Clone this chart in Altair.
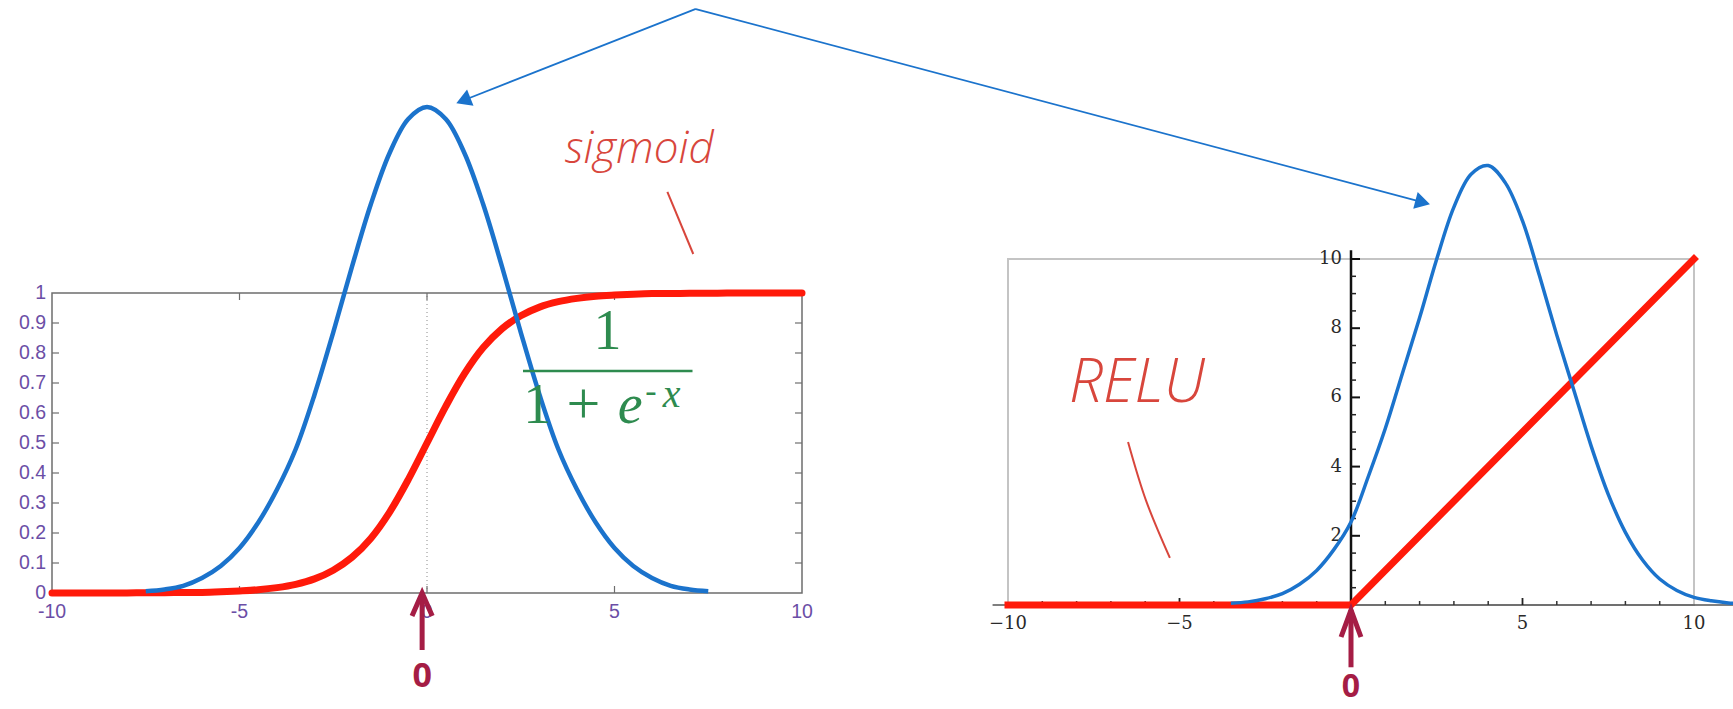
import altair as alt
import pandas as pd

# ---------------- sigmoid panel ----------------
sig_x = [-10, -9.5, -9, -8.5, -8, -7.5, -7, -6.5, -6, -5.5, -5, -4.5, -4, -3.5,
         -3, -2.5, -2, -1.5, -1, -0.5, 0, 0.5, 1, 1.5, 2, 2.5, 3, 3.5,
         4, 4.5, 5, 5.5, 6, 6.5, 7, 7.5, 8, 8.5, 9, 9.5, 10]
sig_y = [0.000, 0.000, 0.000, 0.000, 0.000, 0.001, 0.001, 0.002, 0.002, 0.004, 0.007, 0.011, 0.018, 0.029,
         0.047, 0.076, 0.119, 0.182, 0.269, 0.378, 0.500, 0.622, 0.731, 0.818, 0.881, 0.924, 0.953, 0.971,
         0.982, 0.989, 0.993, 0.996, 0.998, 0.998, 0.999, 0.999, 1.000, 1.000, 1.000, 1.000, 1.000]

bell_l_x = [-7.5, -7, -6.5, -6, -5.5, -5, -4.5, -4, -3.5, -3, -2.5, -2, -1.5, -1, -0.5, 0,
            0.5, 1, 1.5, 2, 2.5, 3, 3.5, 4, 4.5, 5, 5.5, 6, 6.5, 7, 7.5]
bell_l_y = [0.006, 0.012, 0.024, 0.05, 0.09, 0.15, 0.235, 0.345, 0.48, 0.661, 0.869, 1.088, 1.295, 1.466, 1.580, 1.620,
            1.580, 1.466, 1.295, 1.088, 0.869, 0.661, 0.48, 0.345, 0.235, 0.15, 0.09, 0.05, 0.024, 0.012, 0.006]

l_xlim = [-10, 10]
l_ylim = [0, 1]
l_ytick_vals = [0.1, 0.2, 0.3, 0.4, 0.5, 0.6, 0.7, 0.8, 0.9]
l_xtick_vals = [-5, 0, 5]
l_ylabel_vals = [0, 0.1, 0.2, 0.3, 0.4, 0.5, 0.6, 0.7, 0.8, 0.9, 1]
l_ylabel_txt = ["0", "0.1", "0.2", "0.3", "0.4", "0.5", "0.6", "0.7", "0.8", "0.9", "1"]
l_xlabel_vals = [-10, -5, 0, 5, 10]
l_xlabel_txt = ["-10", "-5", "0", "5", "10"]

# formula 1 / (1 + e^-x), placed in sigmoid-panel units
frac_up_txt = ["1", "1", "+", "-"]
frac_up_x = [4.81, 2.94, 4.17, 5.97]
frac_up_y = [0.813, 0.567, 0.567, 0.637]
frac_up_size = [56, 56, 60, 34]
frac_it_txt = ["e", "x"]
frac_it_x = [5.42, 6.52]
frac_it_y = [0.567, 0.62]
frac_it_size = [56, 40]
frac_bar_x = [2.56, 7.08]
frac_bar_y = 0.74

sig_label_pos = (5.66, 1.433)
sig_stroke_x = [6.41, 7.10]
sig_stroke_y = [1.337, 1.13]

# arrow from the top note down to the left bell peak
note_l_from = (7.17, 1.947)
note_l_to = (1.03, 1.645)

# marker under x = 0
zero_l_x = -0.13
zero_l_wing_x = [-0.40, -0.13, 0.14]
zero_l_wing_y = [-0.077, 0.0, -0.077]
zero_l_shaft_y = [-0.005, -0.19]
zero_l_text_y = -0.28

# ---------------- ReLU panel ----------------
relu_x = [-10, 0, 10]
relu_y = [0, 0, 10]

bell_r_x = [-3.5, -3, -2.5, -2, -1.5, -1, -0.5, 0, 0.5, 1, 1.5, 2, 2.5, 3, 3.5, 4,
            4.5, 5, 5.5, 6, 6.5, 7, 7.5, 8, 8.5, 9, 9.5, 10, 10.5, 11, 11.5]
bell_r_y = [0.05, 0.09, 0.18, 0.33, 0.6, 1.0, 1.6, 2.4, 3.7, 5.1, 6.7, 8.3, 10.0, 11.5, 12.45, 12.7,
            12.2, 11.1, 9.5, 7.8, 6.2, 4.6, 3.2, 2.1, 1.3, 0.75, 0.42, 0.22, 0.12, 0.06, 0.03]

r_xlim = [-10, 10]
r_ylim = [0, 10]
r_xaxis_span = [-10.45, 11.6]
r_yaxis_top = 10.25
r_ymajor = [2, 4, 6, 8, 10]
r_yminor = [0.5, 1, 1.5, 2.5, 3, 3.5, 4.5, 5, 5.5, 6.5, 7, 7.5, 8.5, 9, 9.5]
r_xmajor = [-5, 5]
r_xminor = [-9, -8, -7, -6, -4, -3, -2, -1, 1, 2, 3, 4, 6, 7, 8, 9]
r_xlabel_vals = [-10, -5, 5, 10]
r_xlabel_txt = ["\u221210", "\u22125", "5", "10"]

relu_label_pos = (-6.24, 5.87)
relu_stroke_x = [-6.50, -5.98, -5.28]
relu_stroke_y = [4.71, 3.03, 1.36]

note_r_from = (-19.10, 17.225)
note_r_to = (2.02, 11.66)

zero_r_x = 0.0
zero_r_wing_x = [-0.29, 0.0, 0.29]
zero_r_wing_y = [-0.925, -0.145, -0.925]
zero_r_shaft_y = [-0.15, -1.80]
zero_r_text_y = -2.36

# ---------------- styling ----------------
BLUE = "#1b73cc"
RED = "#ff1a0a"
INK = "#d8463c"
PURPLE = "#6b4ea6"
GREEN = "#2e8b4f"
MAROON = "#a51d45"
HAND = "Open Sans"

XL = alt.Scale(domain=l_xlim, range=[52, 802], nice=False, zero=False)
YL = alt.Scale(domain=l_ylim, range=[593, 293], nice=False, zero=False)
XR = alt.Scale(domain=r_xlim, range=[1008, 1694], nice=False, zero=False)
YR = alt.Scale(domain=r_ylim, range=[605, 259], nice=False, zero=False)


def pos(xs, ys, x="x", y="y", x2=None, y2=None):
    e = {"x": alt.X(x, type="quantitative", scale=xs, axis=None),
         "y": alt.Y(y, type="quantitative", scale=ys, axis=None)}
    if x2:
        e["x2"] = alt.X2(x2)
    if y2:
        e["y2"] = alt.Y2(y2)
    return e


def df(**cols):
    return pd.DataFrame(cols)


def panel(xs, ys, xlim, ylim, frame_color, frame_w):
    return alt.Chart(df(x=[xlim[0]], x2=[xlim[1]], y=[ylim[0]], y2=[ylim[1]])).mark_rect(
        fillOpacity=0, stroke=frame_color, strokeWidth=frame_w
    ).encode(**pos(xs, ys, x2="x2", y2="y2"))


def zero_marker(xs, ys, x0, wing_x, wing_y, shaft_y, text_y, fsize):
    shaft = alt.Chart(df(x=[x0], y=[shaft_y[0]], y2=[shaft_y[1]])).mark_rule(
        color=MAROON, strokeWidth=5
    ).encode(**pos(xs, ys, y2="y2"))
    wings = alt.Chart(df(x=wing_x, y=wing_y, i=[0, 1, 2])).mark_line(
        color=MAROON, strokeWidth=5, strokeJoin="miter", strokeCap="butt"
    ).encode(**pos(xs, ys), order="i:Q")
    label = alt.Chart(df(x=[x0], y=[text_y], t=["0"])).mark_text(
        font="Open Sans", fontWeight="bold", fontSize=fsize, color=MAROON, baseline="middle"
    ).encode(**pos(xs, ys), text="t:N")
    return [shaft, wings, label]


def note_arrow(xs, ys, start, end, angle):
    line = alt.Chart(df(x=[start[0]], y=[start[1]], x2=[end[0]], y2=[end[1]])).mark_rule(
        color=BLUE, strokeWidth=1.8
    ).encode(**pos(xs, ys, x2="x2", y2="y2"))
    head = alt.Chart(df(x=[end[0]], y=[end[1]])).mark_point(
        shape="triangle", filled=True, color=BLUE, opacity=1, size=300, angle=angle
    ).encode(**pos(xs, ys))
    return [line, head]


# ---------- sigmoid panel layers ----------
left_layers = [
    panel(XL, YL, l_xlim, l_ylim, "#6e6e6e", 1.5),
    alt.Chart(df(x=[0], y=[l_ylim[0]], y2=[l_ylim[1]])).mark_rule(
        color="#8a8a8a", strokeDash=[1, 3], strokeWidth=1
    ).encode(**pos(XL, YL, y2="y2")),
    alt.Chart(df(x=[l_xlim[0]] * len(l_ytick_vals), y=l_ytick_vals)).mark_rule(
        color="#6e6e6e", strokeWidth=1.2, x2Offset=7
    ).encode(**pos(XL, YL, x2="x")),
    alt.Chart(df(x=[l_xlim[1]] * len(l_ytick_vals), y=l_ytick_vals)).mark_rule(
        color="#6e6e6e", strokeWidth=1.2, x2Offset=-7
    ).encode(**pos(XL, YL, x2="x")),
    alt.Chart(df(x=l_xtick_vals, y=[l_ylim[0]] * len(l_xtick_vals))).mark_rule(
        color="#6e6e6e", strokeWidth=1.2, y2Offset=-7
    ).encode(**pos(XL, YL, y2="y")),
    alt.Chart(df(x=l_xtick_vals, y=[l_ylim[1]] * len(l_xtick_vals))).mark_rule(
        color="#6e6e6e", strokeWidth=1.2, y2Offset=7
    ).encode(**pos(XL, YL, y2="y")),
    alt.Chart(df(x=[l_xlim[0]] * len(l_ylabel_vals), y=l_ylabel_vals, t=l_ylabel_txt)).mark_text(
        font="Liberation Sans", fontSize=19.5, color=PURPLE, align="right", baseline="middle", dx=-6
    ).encode(**pos(XL, YL), text="t:N"),
    alt.Chart(df(x=l_xlabel_vals, y=[l_ylim[0]] * len(l_xlabel_vals), t=l_xlabel_txt)).mark_text(
        font="Liberation Sans", fontSize=19.5, color=PURPLE, align="center", baseline="middle", dy=19
    ).encode(**pos(XL, YL), text="t:N"),
    alt.Chart(df(x=sig_x, y=sig_y)).mark_line(
        color=RED, strokeWidth=7, interpolate="catmull-rom", strokeCap="round"
    ).encode(**pos(XL, YL)),
    alt.Chart(df(x=bell_l_x, y=bell_l_y)).mark_line(
        color=BLUE, strokeWidth=4.5, interpolate="catmull-rom"
    ).encode(**pos(XL, YL)),
    # formula
    alt.Chart(df(x=[frac_bar_x[0]], x2=[frac_bar_x[1]], y=[frac_bar_y])).mark_rule(
        color=GREEN, strokeWidth=2.5
    ).encode(**pos(XL, YL, x2="x2")),
    alt.Chart(df(x=frac_up_x, y=frac_up_y, t=frac_up_txt, s=frac_up_size)).mark_text(
        font="Liberation Serif", color=GREEN, align="center", baseline="alphabetic"
    ).encode(**pos(XL, YL), text="t:N", size=alt.Size("s:Q", scale=None)),
    alt.Chart(df(x=frac_it_x, y=frac_it_y, t=frac_it_txt, s=frac_it_size)).mark_text(
        font="Liberation Serif", fontStyle="italic", color=GREEN, align="center", baseline="alphabetic"
    ).encode(**pos(XL, YL), text="t:N", size=alt.Size("s:Q", scale=None)),
    # handwritten note
    alt.Chart(df(x=[sig_label_pos[0]], y=[sig_label_pos[1]], t=["sigmoid"])).mark_text(
        font=HAND, fontStyle="italic", fontWeight=300, fontSize=44, color=INK,
        align="center", baseline="alphabetic"
    ).encode(**pos(XL, YL), text="t:N"),
    alt.Chart(df(x=sig_stroke_x, y=sig_stroke_y)).mark_line(
        color=INK, strokeWidth=2
    ).encode(**pos(XL, YL)),
]
left_layers += zero_marker(XL, YL, zero_l_x, zero_l_wing_x, zero_l_wing_y, zero_l_shaft_y, zero_l_text_y, 34)
left_layers += note_arrow(XL, YL, note_l_from, note_l_to, 248.3)

# ---------- ReLU panel layers ----------
right_layers = [
    panel(XR, YR, r_xlim, r_ylim, "#c4c4c4", 2),
    alt.Chart(df(x=[r_xaxis_span[0]], x2=[r_xaxis_span[1]], y=[0])).mark_rule(
        color="#555555", strokeWidth=1.5
    ).encode(**pos(XR, YR, x2="x2")),
    alt.Chart(df(x=[0], y=[0], y2=[r_yaxis_top])).mark_rule(
        color="#111111", strokeWidth=2.5
    ).encode(**pos(XR, YR, y2="y2")),
    alt.Chart(df(x=[0] * len(r_ymajor), y=r_ymajor)).mark_rule(
        color="#111111", strokeWidth=2, x2Offset=9
    ).encode(**pos(XR, YR, x2="x")),
    alt.Chart(df(x=[0] * len(r_yminor), y=r_yminor)).mark_rule(
        color="#222222", strokeWidth=1.5, x2Offset=5
    ).encode(**pos(XR, YR, x2="x")),
    alt.Chart(df(x=r_xmajor, y=[0] * len(r_xmajor))).mark_rule(
        color="#222222", strokeWidth=1.8, y2Offset=-7
    ).encode(**pos(XR, YR, y2="y")),
    alt.Chart(df(x=r_xminor, y=[0] * len(r_xminor))).mark_rule(
        color="#333333", strokeWidth=1.5, y2Offset=-4
    ).encode(**pos(XR, YR, y2="y")),
    alt.Chart(df(x=[0] * len(r_ymajor), y=r_ymajor, t=[str(v) for v in r_ymajor])).mark_text(
        font="DejaVu Serif", fontSize=18, color="#2a2a2a", align="right", baseline="middle", dx=-9
    ).encode(**pos(XR, YR), text="t:N"),
    alt.Chart(df(x=r_xlabel_vals, y=[0] * len(r_xlabel_vals), t=r_xlabel_txt)).mark_text(
        font="DejaVu Serif", fontSize=18, color="#2a2a2a", align="center", baseline="middle", dy=19
    ).encode(**pos(XR, YR), text="t:N"),
    alt.Chart(df(x=relu_x, y=relu_y)).mark_line(
        color=RED, strokeWidth=7, strokeJoin="miter", strokeCap="square"
    ).encode(**pos(XR, YR)),
    alt.Chart(df(x=bell_r_x, y=bell_r_y)).mark_line(
        color=BLUE, strokeWidth=3.5, interpolate="catmull-rom"
    ).encode(**pos(XR, YR)),
    alt.Chart(df(x=[relu_label_pos[0]], y=[relu_label_pos[1]], t=["RELU"])).mark_text(
        font=HAND, fontStyle="italic", fontWeight=300, fontSize=60, color=INK,
        align="center", baseline="alphabetic"
    ).encode(**pos(XR, YR), text="t:N"),
    alt.Chart(df(x=relu_stroke_x, y=relu_stroke_y)).mark_line(
        color=INK, strokeWidth=2, interpolate="catmull-rom"
    ).encode(**pos(XR, YR)),
]
right_layers += zero_marker(XR, YR, zero_r_x, zero_r_wing_x, zero_r_wing_y, zero_r_shaft_y, zero_r_text_y, 32)
right_layers += note_arrow(XR, YR, note_r_from, note_r_to, 104.9)

left = alt.layer(*left_layers)
right = alt.layer(*right_layers)

chart = alt.layer(left, right).resolve_scale(
    x="independent", y="independent"
).properties(
    width=1733, height=709, padding=0,
    autosize=alt.AutoSizeParams(type="none"),
    background="white",
).configure_view(stroke=None)

chart.save("out.html", embed_options={"renderer": "svg", "actions": False})
